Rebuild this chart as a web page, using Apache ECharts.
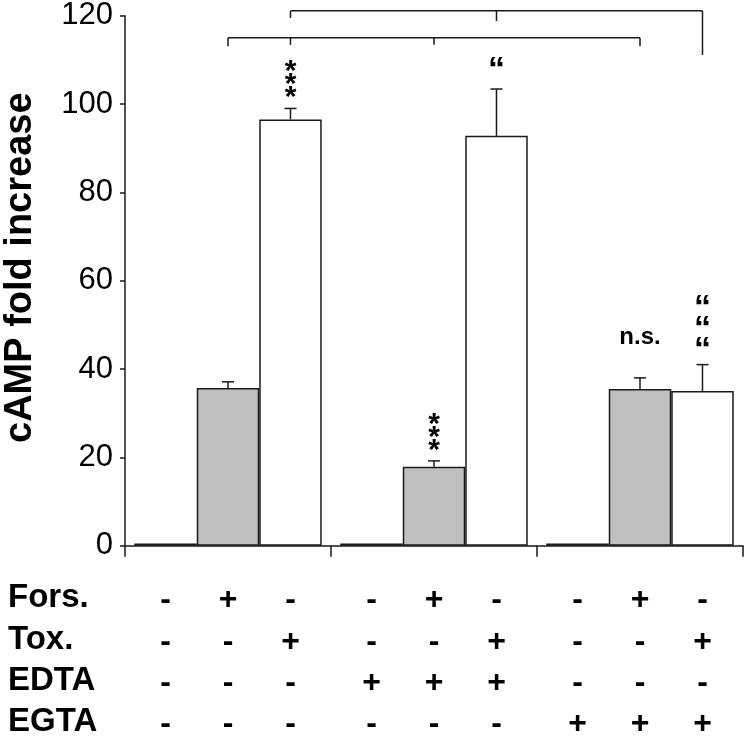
<!DOCTYPE html>
<html><head><meta charset="utf-8">
<script src="https://cdn.jsdelivr.net/npm/echarts@6/dist/echarts.min.js"></script>
<style>html,body{margin:0;padding:0;background:#fff}#c{width:748px;height:748px}</style>
</head><body><div id="c"></div>
<script>
// ---- data ----
const groups = ['Control', 'EDTA', 'EGTA'];
const controlValues = [0.5, 0.5, 0.5];
const forsValues = [35.7, 17.9, 35.5];
const toxValues = [96.5, 92.8, 35.0];
const controlErr = [0, 0, 0];
const forsErr = [1.4, 1.3, 2.5];
const toxErr = [2.5, 10.6, 6.0];
const controlSig = ['', '', ''];
const forsSig = ['', '***', 'n.s.'];
const toxSig = ['***', '\u201C', '\u201C\n\u201C\n\u201C'];
const yTickMin = 0, yTickMax = 120, yTickStep = 20;
const rowLabels = ['Fors.', 'Tox.', 'EDTA', 'EGTA'];
const forsRow = ['-', '+', '-', '-', '+', '-', '-', '+', '-'];
const toxRow  = ['-', '-', '+', '-', '-', '+', '-', '-', '+'];
const edtaRow = ['-', '-', '-', '+', '+', '+', '-', '-', '-'];
const egtaRow = ['-', '-', '-', '-', '-', '-', '+', '+', '+'];
// comparison brackets: [group, slot] bar references and levels (y values)
const bracketTop = { level: 121.1, ends: [[0, 2, 119.5], [1, 2, 118.8], [2, 2, 111.1]] };
const bracketLow = { level: 115.0, ends: [[0, 1, 113.1], [0, 2, 113.4], [1, 1, 113.4], [2, 1, 113.1]] };

// ---- styles / layout ----
const CAT_GAP = 0.09;
const FONT = '"Liberation Sans", Arial, sans-serif';
const rowOffsets = [54, 96, 137, 178];
const sigStyle = {
  '***': { size: 30, lh: 13, gap: 4 },
  'n.s.': { size: 24, lh: 24, gap: 28 },
  'q1': { size: 34, lh: 21, gap: 8 },
  'q3': { size: 34, lh: 21, gap: 3 }
};

const slots = [
  { values: controlValues, err: controlErr, sig: controlSig },
  { values: forsValues, err: forsErr, sig: forsSig },
  { values: toxValues, err: toxErr, sig: toxSig }
];
const rows = [forsRow, toxRow, edtaRow, egtaRow];
const items = [];
groups.forEach((g, gi) => {
  slots.forEach((s, si) => {
    items.push({ g: gi, s: si, v: s.values[gi], e: s.err[gi], sig: s.sig[gi], col: gi * 3 + si });
  });
});

function barX(api, g, s) {
  const center = api.coord([g, 0])[0];
  const catW = api.size([1, 0])[0];
  const barW = catW * (1 - CAT_GAP) / 3;
  return center - 1.5 * barW + (s + 0.5) * barW;
}

function renderAnno(params, api) {
  const it = items[params.dataIndex];
  const x = barX(api, it.g, it.s);
  const yTop = api.coord([it.g, it.v])[1];
  const yErr = api.coord([it.g, it.v + it.e])[1];
  const y0 = api.coord([it.g, 0])[1];
  const ls = { stroke: '#1a1a1a', lineWidth: 1.5 };
  const children = [];
  if (it.e > 0) {
    children.push({ type: 'line', shape: { x1: x, y1: yTop, x2: x, y2: yErr }, style: ls });
    children.push({ type: 'line', shape: { x1: x - 6, y1: yErr, x2: x + 6, y2: yErr }, style: ls });
  }
  if (it.sig) {
    let st;
    let txt = it.sig;
    if (it.sig.indexOf('*') >= 0) { st = sigStyle['***']; txt = it.sig.split('').join('\n'); }
    else if (it.sig === 'n.s.') st = sigStyle['n.s.'];
    else st = it.sig.length > 1 ? sigStyle['q3'] : sigStyle['q1'];
    children.push({
      type: 'text',
      style: {
        x: x, y: yErr - st.gap, text: txt, align: 'center', verticalAlign: 'bottom',
        fontSize: st.size, lineHeight: st.lh, fontWeight: 'bold', fontFamily: FONT, fill: '#000'
      }
    });
  }
  rows.forEach((r, ri) => {
    children.push({
      type: 'text',
      style: {
        x: x, y: y0 + rowOffsets[ri], text: r[it.col], align: 'center', verticalAlign: 'middle',
        fontSize: 32, fontWeight: 'bold', fontFamily: FONT, fill: '#000'
      }
    });
  });
  return { type: 'group', children: children };
}

function renderBracket(params, api) {
  const b = params.dataIndex === 0 ? bracketTop : bracketLow;
  const ls = { stroke: '#1a1a1a', lineWidth: 1.5, fill: null };
  const yl = api.coord([0, b.level])[1];
  const xs = b.ends.map(e => barX(api, e[0], e[1]));
  const children = [{ type: 'line', shape: { x1: Math.min(...xs), y1: yl, x2: Math.max(...xs), y2: yl }, style: ls }];
  b.ends.forEach((e, k) => {
    const yd = api.coord([0, e[2]])[1];
    children.push({ type: 'line', shape: { x1: xs[k], y1: yl, x2: xs[k], y2: yd }, style: ls });
  });
  return { type: 'group', children: children };
}

const barStyle = (c) => ({ color: c, borderColor: '#1a1a1a', borderWidth: 1.5 });

const chart = echarts.init(document.getElementById('c'), null, { renderer: 'canvas' });
chart.setOption({
  animation: false,
  backgroundColor: '#fff',
  grid: { left: 125, right: 5, top: 15.7, bottom: 202.3, containLabel: false, outerBoundsMode: 'none' },
  xAxis: {
    type: 'category', data: groups,
    axisLine: { show: true, lineStyle: { color: '#1a1a1a', width: 1.5 } },
    axisTick: { show: true, length: 11, lineStyle: { color: '#1a1a1a', width: 1.5 } },
    axisLabel: { show: false },
    splitLine: { show: false }
  },
  yAxis: {
    type: 'value', min: yTickMin, max: yTickMax, interval: yTickStep,
    name: 'cAMP fold increase', nameLocation: 'middle', nameGap: 85,
    nameTextStyle: { fontSize: 38, fontWeight: 'bold', fontFamily: FONT, color: '#000', padding: [0, 0, 0, 26] },
    axisLine: { show: true, lineStyle: { color: '#1a1a1a', width: 1.5 } },
    axisTick: { show: true, length: 5, lineStyle: { color: '#1a1a1a', width: 1.5 } },
    axisLabel: { fontSize: 31, fontFamily: FONT, color: '#000', margin: 12 },
    splitLine: { show: false }
  },
  graphic: rowLabels.map((t, i) => ({
    type: 'text', left: 8, top: 545.7 + rowOffsets[i] - 18,
    style: { text: t, fontSize: 33, fontWeight: 'bold', fontFamily: FONT, fill: '#000' }
  })),
  series: [
    { type: 'bar', data: controlValues, itemStyle: barStyle('#000'), barGap: 0, barCategoryGap: '9%' },
    { type: 'bar', data: forsValues, itemStyle: barStyle('#c0c0c0'), barGap: 0, barCategoryGap: '9%' },
    { type: 'bar', data: toxValues, itemStyle: barStyle('#fff'), barGap: 0, barCategoryGap: '9%' },
    { type: 'custom', renderItem: renderAnno, clip: false, z: 5,
      data: items.map(it => [it.g, it.v + it.e]) },
    { type: 'custom', renderItem: renderBracket, clip: false, z: 5,
      data: [[0, bracketTop.level], [0, bracketLow.level]] }
  ]
});
</script></body></html>
